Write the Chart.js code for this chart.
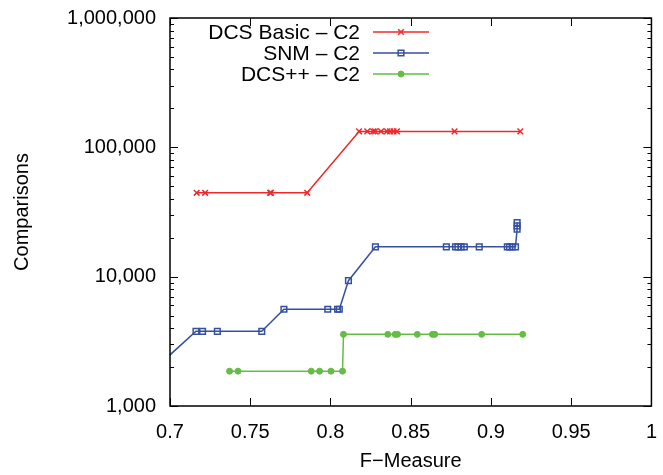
<!DOCTYPE html>
<html>
<head>
<meta charset="utf-8">
<script src="https://cdn.jsdelivr.net/npm/chart.js@4/dist/chart.umd.min.js"></script>
<style>
html, body { margin: 0; padding: 0; background: #fff; }
#wrap { width: 663px; height: 475px; }
</style>
</head>
<body>
<div id="wrap"><canvas id="chart"></canvas></div>
<script>
// DCS Basic - C2
var basicX = [0.7166, 0.7219, 0.7624, 0.7629, 0.7855, 0.8178, 0.8229, 0.8266, 0.8278, 0.8315, 0.8352, 0.8371, 0.8393, 0.8414, 0.8773, 0.9183];
var basicY = [44500, 44500, 44500, 44500, 44500, 132800, 132800, 132800, 132800, 132800, 132800, 132800, 132800, 132800, 132800, 132800];

// SNM - C2 (first point lies left of the axis and is clipped)
var snmX = [0.68, 0.7162, 0.7203, 0.7295, 0.7572, 0.7710, 0.7983, 0.8044, 0.8055, 0.8112, 0.8280, 0.8722, 0.8779, 0.8794, 0.8814, 0.8834, 0.8927, 0.9102, 0.9116, 0.9132, 0.9153, 0.9163, 0.9163, 0.9163];
var snmY = [1480, 3780, 3780, 3780, 3780, 5600, 5600, 5600, 5600, 9310, 17000, 17000, 17000, 17000, 17000, 17000, 17000, 17000, 17000, 17000, 17000, 23300, 24700, 26200];

// DCS++ - C2
var plusX = [0.7371, 0.7424, 0.7880, 0.7932, 0.8003, 0.8075, 0.8081, 0.8357, 0.8403, 0.8418, 0.8541, 0.8635, 0.8650, 0.8942, 0.9198];
var plusY = [1860, 1860, 1860, 1860, 1860, 1860, 3580, 3580, 3580, 3580, 3580, 3580, 3580, 3580, 3580];

var xTicks = [0.7, 0.75, 0.8, 0.85, 0.9, 0.95, 1];
var yTicks = [1000, 10000, 100000, 1000000];

function pts(xs, ys) {
    return xs.map(function (x, i) { return { x: x, y: ys[i] }; });
}

var FONT = 'Liberation Sans, Arial, Helvetica, sans-serif';

// box with inward ticks, like gnuplot
var framePlugin = {
    id: 'frame',
    afterDraw: function (chart) {
        var ctx = chart.ctx, a = chart.chartArea;
        var xs = chart.scales.x, ys = chart.scales.y;
        ctx.save();
        ctx.strokeStyle = '#000';
        ctx.lineWidth = 1;
        ctx.beginPath();
        xTicks.forEach(function (v) {
            var px = Math.round(xs.getPixelForValue(v)) + 0.5;
            ctx.moveTo(px, a.bottom); ctx.lineTo(px, a.bottom - 8);
            ctx.moveTo(px, a.top); ctx.lineTo(px, a.top + 8);
        });
        for (var d = 1000; d <= 1000000; d *= 10) {
            for (var m = 1; m <= 9; m++) {
                var v = d * m;
                if (v > 1000000) break;
                var len = m === 1 ? 8 : 4;
                var py = Math.round(ys.getPixelForValue(v)) + 0.5;
                ctx.moveTo(a.left, py); ctx.lineTo(a.left + len, py);
                ctx.moveTo(a.right, py); ctx.lineTo(a.right - len, py);
            }
        }
        ctx.stroke();
        ctx.lineWidth = 1.5;
        ctx.strokeRect(a.left, a.top, a.right - a.left, a.bottom - a.top);
        ctx.restore();
    }
};

// legend inside the plot: right-aligned text, sample to its right
var keyPlugin = {
    id: 'key',
    afterDraw: function (chart) {
        var ctx = chart.ctx;
        ctx.save();
        ctx.font = '21px ' + FONT;
        ctx.textAlign = 'right';
        ctx.textBaseline = 'middle';
        chart.data.datasets.forEach(function (ds, i) {
            var y = 32 + i * 21;
            ctx.fillStyle = '#000';
            ctx.fillText(ds.label, 360, y + 1);
            ctx.strokeStyle = ds.borderColor;
            ctx.lineWidth = ds.borderWidth;
            ctx.beginPath();
            ctx.moveTo(373, y); ctx.lineTo(429, y);
            ctx.stroke();
            ctx.fillStyle = ds.pointBackgroundColor;
            ctx.strokeStyle = ds.pointBorderColor;
            ctx.lineWidth = ds.pointBorderWidth;
            Chart.helpers.drawPoint(ctx, {
                pointStyle: ds.pointStyle,
                radius: ds.pointRadius,
                borderWidth: ds.pointBorderWidth,
                rotation: 0
            }, 401, y);
        });
        ctx.restore();
    }
};

new Chart(document.getElementById('chart').getContext('2d'), {
    type: 'line',
    data: {
        datasets: [{
            label: 'DCS Basic – C2',
            data: pts(basicX, basicY),
            borderColor: '#f0282a',
            borderWidth: 1.5,
            pointStyle: 'crossRot',
            pointRadius: 4,
            pointBorderWidth: 1.5,
            pointBorderColor: '#f0282a',
            pointBackgroundColor: '#f0282a'
        }, {
            label: 'SNM – C2',
            data: pts(snmX, snmY),
            borderColor: '#3650a0',
            borderWidth: 1.5,
            pointStyle: 'rect',
            pointRadius: 4,
            pointBorderWidth: 1.5,
            pointBorderColor: '#3650a0',
            pointBackgroundColor: 'rgba(0,0,0,0)'
        }, {
            label: 'DCS++ – C2',
            data: pts(plusX, plusY),
            borderColor: '#65bd45',
            borderWidth: 1.5,
            pointStyle: 'circle',
            pointRadius: 3,
            pointBorderWidth: 1,
            pointBorderColor: '#65bd45',
            pointBackgroundColor: '#65bd45'
        }]
    },
    options: {
        responsive: true,
        maintainAspectRatio: false,
        animation: false,
        layout: { padding: { top: 15, right: 7, left: 0, bottom: 0 } },
        plugins: {
            legend: { display: false },
            tooltip: { enabled: false }
        },
        scales: {
            x: {
                type: 'linear',
                min: 0.7,
                max: 1,
                afterBuildTicks: function (s) {
                    s.ticks = xTicks.map(function (v) { return { value: v }; });
                },
                afterFit: function (s) { s.height = 69; },
                ticks: {
                    color: '#000',
                    padding: 6,
                    maxRotation: 0,
                    font: { family: FONT, size: 20 },
                    callback: function (v) { return String(Number(v.toFixed(2))); }
                },
                grid: { display: false },
                border: { display: false },
                title: {
                    display: true,
                    text: 'F−Measure',
                    color: '#000',
                    font: { family: FONT, size: 20 },
                    padding: { top: 4, bottom: 2 }
                }
            },
            y: {
                type: 'logarithmic',
                min: 1000,
                max: 1000000,
                afterBuildTicks: function (s) {
                    s.ticks = yTicks.map(function (v) { return { value: v }; });
                },
                afterFit: function (s) { s.width = 170; },
                ticks: {
                    color: '#000',
                    padding: 6,
                    font: { family: FONT, size: 20 },
                    callback: function (v) { return v.toLocaleString('en-US'); }
                },
                grid: { display: false },
                border: { display: false },
                title: {
                    display: true,
                    text: 'Comparisons',
                    color: '#000',
                    font: { family: FONT, size: 20 },
                    padding: { top: 10, bottom: 0 }
                }
            }
        }
    },
    plugins: [framePlugin, keyPlugin]
});
</script>
</body>
</html>
